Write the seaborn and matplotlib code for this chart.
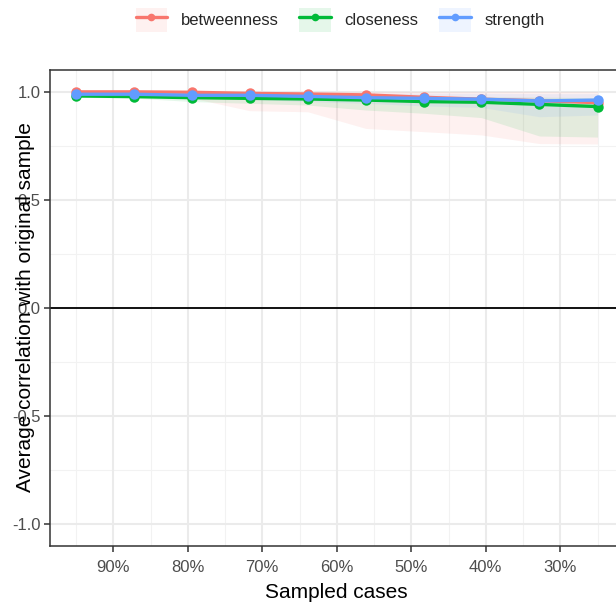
import numpy as np
import pandas as pd
import matplotlib
matplotlib.use("Agg")
import matplotlib.pyplot as plt
import seaborn as sns
from matplotlib.lines import Line2D
from matplotlib.patches import Patch
from matplotlib.legend_handler import HandlerTuple
from matplotlib.ticker import FixedLocator, FuncFormatter

# ---- data ----
sampled = [95.0, 87.2, 79.4, 71.7, 63.9, 56.1, 48.3, 40.6, 32.8, 25.0]
measures = ["betweenness", "closeness", "strength"]
betweenness_mean = [0.999, 0.999, 0.997, 0.992, 0.989, 0.985, 0.974, 0.965, 0.958, 0.949]
betweenness_low = [0.990, 0.985, 0.970, 0.912, 0.907, 0.830, 0.815, 0.800, 0.760, 0.758]
betweenness_high = [1.000, 1.000, 1.000, 1.000, 1.000, 1.000, 1.000, 1.000, 1.000, 1.000]
closeness_mean = [0.980, 0.977, 0.972, 0.969, 0.966, 0.961, 0.954, 0.951, 0.941, 0.931]
closeness_low = [0.974, 0.970, 0.954, 0.946, 0.938, 0.915, 0.900, 0.880, 0.795, 0.790]
closeness_high = [0.986, 0.985, 0.984, 0.983, 0.982, 0.980, 0.978, 0.977, 0.975, 0.972]
strength_mean = [0.988, 0.988, 0.983, 0.983, 0.978, 0.972, 0.969, 0.965, 0.957, 0.961]
strength_low = [0.980, 0.978, 0.970, 0.965, 0.954, 0.946, 0.934, 0.927, 0.884, 0.892]
strength_high = [0.996, 0.996, 0.995, 0.995, 0.994, 0.993, 0.993, 0.992, 0.991, 0.991]
x_ticks = [90, 80, 70, 60, 50, 40, 30]
y_ticks = [1.0, 0.5, 0.0, -0.5, -1.0]
y_tick_labels = ["1.0", "0.5", "0.0", "-0.5", "-1.0"]
colors = ["#F8766D", "#00BA38", "#619CFF"]

means = {"betweenness": betweenness_mean, "closeness": closeness_mean, "strength": strength_mean}
lows = {"betweenness": betweenness_low, "closeness": closeness_low, "strength": strength_low}
highs = {"betweenness": betweenness_high, "closeness": closeness_high, "strength": strength_high}

rows = []
for m in measures:
    for s, v, lo, hi in zip(sampled, means[m], lows[m], highs[m]):
        rows.append({"sampled": s, "measure": m, "value": v, "low": lo, "high": hi})
df = pd.DataFrame(rows)

# ---- figure ----
sns.set_style("white")
plt.rcParams["font.family"] = ["Liberation Sans", "DejaVu Sans"]

W, H = 616, 602
fig = plt.figure(figsize=(W / 100, H / 100), dpi=100)
left_px, right_px, top_px, bottom_px = 50, 623.6, 70, 546
ax = fig.add_axes([left_px / W, 1 - bottom_px / H, (right_px - left_px) / W, (bottom_px - top_px) / H])
ax.set_facecolor("white")

# grid
for v in [95, 85, 75, 65, 55, 45, 35, 25]:
    ax.axvline(v, color="#F2F2F2", lw=0.8, zorder=0)
for v in [0.75, 0.25, -0.25, -0.75]:
    ax.axhline(v, color="#F2F2F2", lw=0.8, zorder=0)
for v in x_ticks:
    ax.axvline(v, color="#EBEBEB", lw=1.5, zorder=0)
for v in y_ticks:
    ax.axhline(v, color="#EBEBEB", lw=1.5, zorder=0)

ax.axhline(0, color="black", lw=1.3, zorder=1)

# ribbons
for m, c in zip(measures, colors):
    d = df[df.measure == m]
    ax.fill_between(d["sampled"], d["low"], d["high"], color=c, alpha=0.1, lw=0, zorder=2)

sns.lineplot(data=df, x="sampled", y="value", hue="measure", hue_order=measures,
             palette=colors, marker="o", markersize=7.5, markeredgewidth=0,
             linewidth=2.4, ax=ax, legend=False, zorder=3)

ax.set_xlim(98.5, 21.5)
ax.set_ylim(-1.1, 1.1)
ax.xaxis.set_major_locator(FixedLocator(x_ticks))
ax.xaxis.set_major_formatter(FuncFormatter(lambda v, p: f"{int(round(v))}%"))
ax.set_yticks(y_ticks)
ax.set_yticklabels(y_tick_labels)
ax.tick_params(axis="both", which="major", length=4, width=1.1, color="#333333",
               labelsize=12, labelcolor="#4D4D4D", direction="out")
ax.tick_params(axis="x", bottom=True, pad=6)
ax.tick_params(axis="y", left=True, pad=3)
for sp in ax.spines.values():
    sp.set_color("#333333")
    sp.set_linewidth(1.1)
    sp.set_visible(True)

ax.set_xlabel("Sampled cases", fontsize=15, color="black", labelpad=6)
ax.set_ylabel("")
fig.text(26 / W, 1 - 307 / H, "Average correlation with original sample", rotation=90,
         ha="center", va="center", fontsize=15, color="black")

# legend
handles = []
for c in colors:
    handles.append((Patch(facecolor=c, alpha=0.1, edgecolor="none"),
                    Line2D([], [], color=c, lw=2.4, marker="o", markersize=5.5, markeredgewidth=0)))
leg = fig.legend(handles, measures, loc="center", bbox_to_anchor=(340 / W, 1 - 20 / H), ncol=3,
                 frameon=False, fontsize=12, handler_map={tuple: HandlerTuple(ndivide=1, pad=0)},
                 handlelength=1.9, handleheight=1.9, handletextpad=0.8, columnspacing=1.25)

fig.savefig("out.png", dpi=100)
